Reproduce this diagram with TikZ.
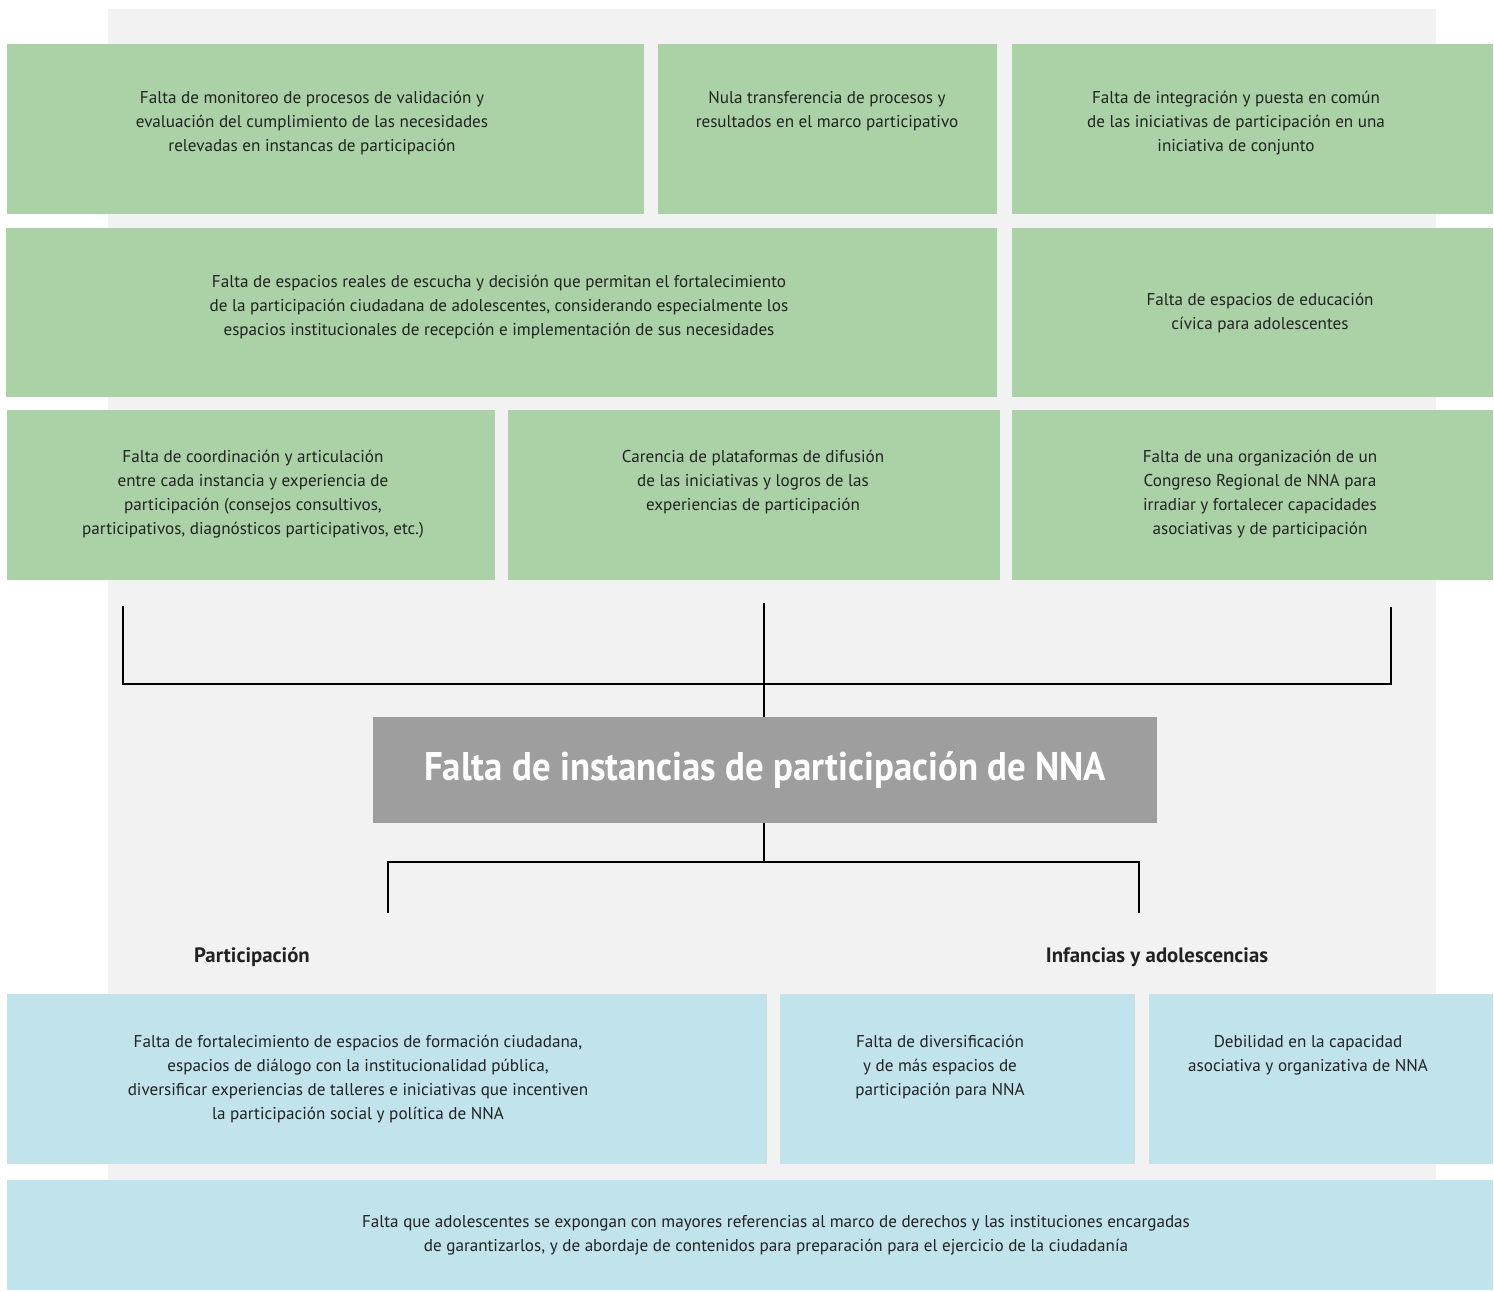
\documentclass[tikz,border=0pt]{standalone}
\usepackage{fontspec}
\setmainfont{PT Sans}
\newfontfamily\condfont[FakeStretch=0.92]{PT Sans}
\definecolor{bggray}{HTML}{F2F2F2}
\definecolor{boxgreen}{HTML}{ABD1A7}
\definecolor{boxblue}{HTML}{C1E3EC}
\definecolor{titlegray}{HTML}{9D9E9D}
\definecolor{txt}{HTML}{222222}
\begin{document}
\begin{tikzpicture}[x=0.5pt,y=-0.5pt,
  gbox/.style={fill=boxgreen,draw=none},
  bbox/.style={fill=boxblue,draw=none},
  btxt/.style={align=center,text=txt,font=\fontsize{8.55}{12}\selectfont,inner sep=0pt},
  lbl/.style={text=txt,font=\bfseries\fontsize{10.4}{12}\selectfont,inner sep=0pt},
  conn/.style={draw=black,line width=0.7pt}]
\useasboundingbox (0,0) rectangle (1494,1291);
\fill[white] (0,0) rectangle (1494,1291);
\fill[bggray] (108,9) rectangle (1436,1180);
% green boxes
\fill[gbox] (7,44) rectangle (644,214);
\fill[gbox] (658,44) rectangle (997,214);
\fill[gbox] (1012,44) rectangle (1493,214);
\fill[gbox] (6,228) rectangle (997,397);
\fill[gbox] (1012,228) rectangle (1493,397);
\fill[gbox] (7,410) rectangle (495,580);
\fill[gbox] (508,410) rectangle (1000,580);
\fill[gbox] (1012,410) rectangle (1493,580);
% blue boxes
\fill[bbox] (7,994) rectangle (767,1164);
\fill[bbox] (780,994) rectangle (1135,1164);
\fill[bbox] (1149,994) rectangle (1493,1164);
\fill[bbox] (7,1180) rectangle (1493,1290);
% texts
\node[btxt] (a) at (312,123) {Falta de monitoreo de procesos de validación y\\evaluación del cumplimiento de las necesidades\\relevadas en instancas de participación};
\node[btxt] (b) at (827,111) {Nula transferencia de procesos y\\resultados en el marco participativo};
\node[btxt] (c) at (1236,123) {Falta de integración y puesta en común\\de las iniciativas de participación en una\\iniciativa de conjunto};
\node[btxt] (d) at (499,307) {Falta de espacios reales de escucha y decisión que permitan el fortalecimiento\\de la participación ciudadana de adolescentes, considerando especialmente los\\espacios institucionales de recepción e implementación de sus necesidades};
\node[btxt] (e) at (1260,313) {Falta de espacios de educación\\cívica para adolescentes};
\node[btxt] (f) at (253,494) {Falta de coordinación y articulación\\entre cada instancia y experiencia de\\participación (consejos consultivos,\\participativos, diagnósticos participativos, etc.)};
\node[btxt] (g) at (753,482) {Carencia de plataformas de difusión\\de las iniciativas y logros de las\\experiencias de participación};
\node[btxt] (h) at (1260,494) {Falta de una organización de un\\Congreso Regional de NNA para\\irradiar y fortalecer capacidades\\asociativas y de participación};
\node[btxt] (i) at (358,1079) {Falta de fortalecimiento de espacios de formación ciudadana,\\espacios de diálogo con la institucionalidad pública,\\diversificar experiencias de talleres e iniciativas que incentiven\\la participación social y política de NNA};
\node[btxt] (j) at (940,1067) {Falta de diversificación\\y de más espacios de\\participación para NNA};
\node[btxt] (k) at (1308,1055) {Debilidad en la capacidad\\asociativa y organizativa de NNA};
\node[btxt] (l) at (776,1235) {Falta que adolescentes se expongan con mayores referencias al marco de derechos y las instituciones encargadas\\de garantizarlos, y de abordaje de contenidos para preparación para el ejercicio de la ciudadanía};
% title
\node[fill=titlegray,minimum width=392pt,minimum height=53pt,inner sep=0pt,text=white,font=\condfont\bfseries\fontsize{20}{22}\selectfont] (t) at (765,770) {Falta de instancias de participación de NNA};
% labels
\node[lbl] (p) at (252,957) {Participación};
\node[lbl] (q) at (1157,957) {Infancias y adolescencias};
% connectors
\coordinate (l1) at (123,606);
\coordinate (m1) at (764,603);
\coordinate (r1) at (1391,607);
\coordinate (l2) at (123,684);
\coordinate (r2) at (1391,684);
\draw[conn] (l1) -- (l2) -- (r2) -- (r1);
\draw[conn] (m1) -- (t.north -| m1);
\coordinate (b0) at (764,862);
\coordinate (bl) at (388,862);
\coordinate (br) at (1139,862);
\coordinate (bl2) at (388,913);
\coordinate (br2) at (1139,913);
\draw[conn] (t.south -| b0) -- (b0);
\draw[conn] (bl2) -- (bl) -- (br) -- (br2);
\end{tikzpicture}
\end{document}
